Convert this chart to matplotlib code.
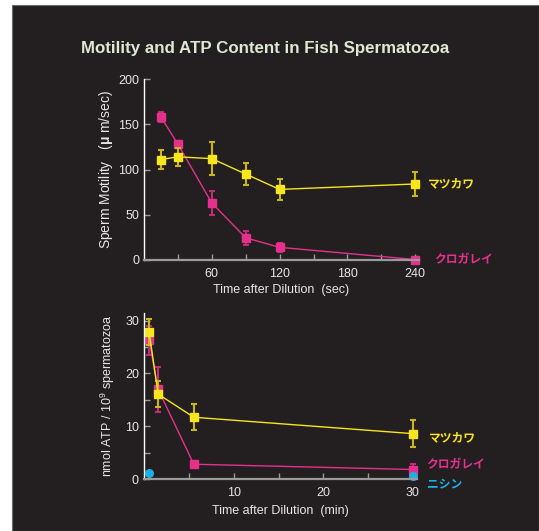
import numpy as np
import matplotlib
matplotlib.use('Agg')
import matplotlib.pyplot as plt
from matplotlib.patches import Rectangle

plt.rcParams['font.family'] = ['Liberation Sans', 'Noto Sans CJK JP']
plt.rcParams['mathtext.fontset'] = 'custom'
plt.rcParams['mathtext.rm'] = 'Liberation Sans'
plt.rcParams['mathtext.bf'] = 'Liberation Sans:bold'

# motility (sec after dilution)
t_sec = [15, 30, 60, 90, 120, 240]
mot_matsukawa = [111, 114, 112, 95, 78, 84]
mot_matsukawa_err = [10.5, 10, 18, 12, 12, 13]
mot_kurogarei = [158, 128, 63, 24.5, 14, 0.5]
mot_kurogarei_err = [5.5, 4, 13, 8, 5, 0]

# ATP (min after dilution)
t_min = [0.5, 1.5, 5.5, 30]
atp_matsukawa = [27.8, 16.1, 11.7, 8.6]
atp_matsukawa_err = [2.5, 2.5, 2.5, 2.5]
atp_kurogarei = [26.3, 17.0, 2.8, 1.8]
atp_kurogarei_err = [2.75, 4.3, 0.5, 1.0]
t_min_nishin = [0.45, 30]
atp_nishin = [1.07, 0.6]

bg = '#231f20'
yellow = '#f7e51f'
yellow_err = '#c9b51c'
magenta = '#e5318c'
magenta_err = '#c42a7a'
cyan = '#1ab0e8'
txt = '#e6e6e6'
gray = '#9a9a9a'

W, H = 539, 531
fig = plt.figure(figsize=(W / 100, H / 100), dpi=100, facecolor='white')
fig.patches.append(Rectangle((12 / W, 0), 1 - 12 / W, 1 - 5 / H, transform=fig.transFigure,
                             facecolor=bg, edgecolor='#6a6a6a', lw=0.8, zorder=-1))

fig.text(265 / W, 1 - 48 / H, 'Motility and ATP Content in Fish Spermatozoa',
         ha='center', va='center', fontsize=12.2, weight='bold', color='#dde9d2')


def style(ax):
    ax.set_facecolor('none')
    ax.spines['top'].set_visible(False)
    ax.spines['right'].set_visible(False)
    ax.spines['left'].set_color('white')
    ax.spines['left'].set_linewidth(1)
    ax.spines['bottom'].set_color(gray)
    ax.spines['bottom'].set_linewidth(1.6)
    ax.tick_params(which='both', direction='in', length=4, width=1, color=gray,
                   labelcolor=txt, labelsize=9)
    ax.tick_params(axis='x', pad=6)


def series(ax, x, y, e, c, ec):
    ax.errorbar(x, y, yerr=e, fmt='none', ecolor=ec, elinewidth=1.5, capsize=2.5, capthick=1.5,
                clip_on=False)
    ax.plot(x, y, '-', color=c, lw=1, clip_on=False)
    ax.plot(x, y, 's', color=c, ms=6, clip_on=False)


# top: motility
ax1 = fig.add_axes([144 / W, 1 - 260 / H, 274.6 / W, 181 / H])
style(ax1)
series(ax1, t_sec, mot_kurogarei, mot_kurogarei_err, magenta, magenta_err)
series(ax1, t_sec, mot_matsukawa, mot_matsukawa_err, yellow, yellow_err)
ax1.set_xlim(0, 243)
ax1.set_ylim(0, 200)
ax1.set_xticks([30, 60, 90, 120, 150, 180, 210, 240])
ax1.set_xticklabels(['', '60', '', '120', '', '180', '', '240'])
ax1.set_yticks([0, 50, 100, 150, 200])
ax1.set_xlabel('Time after Dilution  (sec)', color=txt, fontsize=9, labelpad=3)
ax1.set_ylabel(r'Sperm Motility   ($\mathbf{\mu}$ m/sec)', color=txt, fontsize=10, labelpad=2)
jp = dict(family=['Noto Sans CJK JP'], weight='bold', fontsize=8.5, va='center',
          textcoords='offset points', annotation_clip=False)
ax1.annotate('マツカワ', (t_sec[-1], mot_matsukawa[-1]), xytext=(9, 0), color=yellow, **jp)
ax1.annotate('クロガレイ', (t_sec[-1], mot_kurogarei[-1]), xytext=(14, 0), color=magenta, **jp)

# bottom: ATP
ax2 = fig.add_axes([143.8 / W, 1 - 479 / H, 273.3 / W, 165.7 / H])
style(ax2)
series(ax2, t_min, atp_kurogarei, atp_kurogarei_err, magenta, magenta_err)
series(ax2, t_min, atp_matsukawa, atp_matsukawa_err, yellow, yellow_err)
ax2.plot(t_min_nishin, atp_nishin, 'o', color=cyan, ms=5.5, clip_on=False)
ax2.set_xlim(-0.1, 30.5)
ax2.set_ylim(0, 31.4)
ax2.set_xticks([10, 20, 30])
ax2.set_xticks([5, 15, 25], minor=True)
ax2.set_yticks([0, 10, 20, 30])
ax2.set_yticks([5, 15, 25], minor=True)
ax2.set_xlabel('Time after Dilution  (min)', color=txt, fontsize=9, labelpad=4)
ax2.set_ylabel(r'nmol ATP / 10$^9$ spermatozoa', color=txt, fontsize=9, labelpad=6)
ax2.annotate('マツカワ', (t_min[-1], atp_matsukawa[-1]), xytext=(12, -3), color=yellow, **jp)
ax2.annotate('クロガレイ', (t_min[-1], atp_kurogarei[-1]), xytext=(10, 3.5), color=magenta, **jp)
ax2.annotate('ニシン', (t_min_nishin[-1], atp_nishin[-1]), xytext=(10, -6), color=cyan, **jp)

fig.savefig('out.png', dpi=100, facecolor='white')
